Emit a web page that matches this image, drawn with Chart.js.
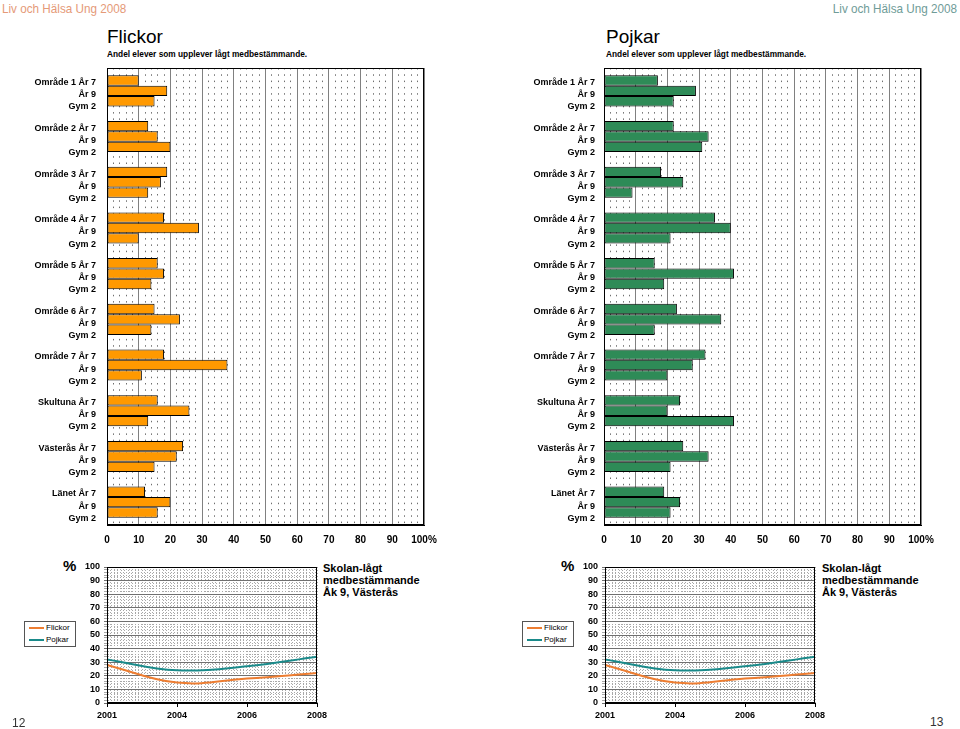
<!DOCTYPE html>
<html>
<head>
<meta charset="utf-8">
<script src="https://cdn.jsdelivr.net/npm/chart.js@4.4.1/dist/chart.umd.min.js"></script>
<style>
  body { margin: 0; width: 960px; height: 729px; background: #fff; position: relative; overflow: hidden;
         font-family: Arial, "Liberation Sans", sans-serif; color: #000; }
  .abs { position: absolute; white-space: nowrap; line-height: 1; }
  canvas { position: absolute; }
  .head { font-size: 13px; top: 2px; transform: scaleX(0.9); }
  .title { font-size: 19px; top: 27px; }
  .sub { font-size: 8.3px; font-weight: bold; top: 50px; }
  .pct { font-size: 15px; font-weight: bold; top: 558px; }
  .ttl { font-size: 11px; font-weight: bold; line-height: 12px; top: 562px; }
  .legend { position: absolute; top: 621px; width: 50px; height: 24px; border: 1px solid #555;
            font-size: 8px; line-height: 12px; }
  .legend div { display: flex; align-items: center; }
  .legend span { display: inline-block; width: 15px; height: 2px; margin: 0 2px 0 4px; }
  .page { font-size: 12px; color: #333; }
</style>
</head>
<body>
<div class="abs head" style="left:2px;color:#E59A78;transform-origin:left top;">Liv och Hälsa Ung 2008</div>
<div class="abs head" style="right:3px;color:#6F9C98;transform-origin:right top;">Liv och Hälsa Ung 2008</div>

<div class="abs title" style="left:107px;">Flickor</div>
<div class="abs sub" style="left:107px;">Andel elever som upplever lågt medbestämmande.</div>
<div class="abs title" style="left:606px;">Pojkar</div>
<div class="abs sub" style="left:606px;">Andel elever som upplever lågt medbestämmande.</div>

<canvas id="girlsBars" width="440" height="495" style="left:0;top:60px;"></canvas>
<canvas id="boysBars" width="460" height="495" style="left:480px;top:60px;"></canvas>

<div class="abs pct" style="left:63px;">%</div>
<div class="abs ttl" style="left:323px;">Skolan-lågt<br>medbestämmande<br>Åk 9, Västerås</div>
<div class="legend" style="left:24px;">
  <div><span style="background:#ED7D31"></span>Flickor</div>
  <div><span style="background:#1A8A8A"></span>Pojkar</div>
</div>
<canvas id="trendLeft" width="340" height="174" style="left:0;top:555px;"></canvas>

<div class="abs pct" style="left:561px;">%</div>
<div class="abs ttl" style="left:822px;">Skolan-lågt<br>medbestämmande<br>Åk 9, Västerås</div>
<div class="legend" style="left:522px;">
  <div><span style="background:#ED7D31"></span>Flickor</div>
  <div><span style="background:#1A8A8A"></span>Pojkar</div>
</div>
<canvas id="trendRight" width="340" height="174" style="left:498px;top:555px;"></canvas>

<div class="abs page" style="left:12px;top:717px;">12</div>
<div class="abs page" style="left:930px;top:716px;">13</div>

<script>
// ── Data ─────────────────────────────────────────────────────────────────
const GROUPS = ["Område 1", "Område 2", "Område 3", "Område 4", "Område 5",
                "Område 6", "Område 7", "Skultuna", "Västerås", "Länet"];
const GRADES = ["År 7", "År 9", "Gym 2"];

const GIRLS_AR7  = [10, 13, 19, 18, 16, 15, 18, 16, 24, 12];
const GIRLS_AR9  = [19, 16, 17, 29, 18, 23, 38, 26, 22, 20];
const GIRLS_GYM2 = [15, 20, 13, 10, 14, 14, 11, 13, 15, 16];

const BOYS_AR7  = [17, 22, 18, 35, 16, 23, 32, 24, 25, 19];
const BOYS_AR9  = [29, 33, 25, 40, 41, 37, 28, 20, 33, 24];
const BOYS_GYM2 = [22, 31, 9, 21, 19, 16, 20, 41, 21, 21];

const PCT_TICKS = ["0", "10", "20", "30", "40", "50", "60", "70", "80", "90", "100%"];

const YEARS = ["2001", "2004", "2006", "2008"];
const TREND_GIRLS = [28, 15, 18, 22];
const TREND_BOYS  = [32, 24, 27, 34];
const TREND_TICKS = ["0", "10", "20", "30", "40", "50", "60", "70", "80", "90", "100"];

Chart.defaults.font.family = 'Arial, "Liberation Sans", sans-serif';
Chart.defaults.color = "#000";

// black box round the plot area, like the Excel originals
const frame = {
  id: "frame",
  afterDraw(chart) {
    const { ctx, chartArea: a } = chart;
    ctx.save();
    ctx.strokeStyle = "#000";
    ctx.lineWidth = 1;
    ctx.strokeRect(Math.round(a.left) + 0.5, Math.round(a.top) + 0.5,
                   Math.round(a.right - a.left) - 1, Math.round(a.bottom - a.top) - 1);
    ctx.restore();
  }
};

// fixed axis sizes, and no extra room for overhanging labels
const fixSize = (w, h) => s => {
  if (w != null) s.width = w;
  if (h != null) s.height = h;
  s.paddingTop = 0; s.paddingBottom = 0; s.paddingLeft = 0; s.paddingRight = 0;
};

// ── Horizontal bar charts ────────────────────────────────────────────────
function barChart(id, series, color, axisW, padRight, labelPad) {
  return new Chart(document.getElementById(id), {
    type: "bar",
    data: {
      labels: GROUPS.map(g => [g + " " + GRADES[0], GRADES[1], GRADES[2]]),
      datasets: series.map((d, i) => ({
        label: GRADES[i],
        data: d,
        backgroundColor: color,
        borderColor: "#000",
        borderWidth: 1,
        borderSkipped: false,
        categoryPercentage: 0.68,
        barPercentage: 1,
      }))
    },
    options: {
      indexAxis: "y",
      animation: false,
      responsive: false,
      layout: { padding: { top: 8, right: padRight, left: 0, bottom: 0 } },
      plugins: { legend: { display: false }, tooltip: { enabled: false } },
      scales: {
        x: {
          min: 0, max: 100,
          ticks: {
            stepSize: 2, autoSkip: false, maxRotation: 0, padding: 9,
            font: { size: 10, weight: "bold" },
            callback: v => (v % 10 === 0 ? PCT_TICKS[v / 10] : "")
          },
          grid: {
            drawTicks: false, lineWidth: 1,
            color: c => (c.tick && c.tick.value % 10 === 0 ? "#808080" : "#6f6f6f")
          },
          border: {
            color: "#000",
            dash: c => (c.tick && c.tick.value % 10 !== 0 ? [1.5, 4.8] : [])
          },
          afterFit: fixSize(null, 30)
        },
        y: {
          grid: { display: false, drawTicks: false },
          border: { color: "#000" },
          ticks: {
            autoSkip: false, padding: labelPad, labelOffset: 4,
            font: { size: 9, weight: "bold", lineHeight: 1.35 }
          },
          afterFit: fixSize(axisW, null)
        }
      }
    },
    plugins: [frame]
  });
}

barChart("girlsBars", [GIRLS_AR7, GIRLS_AR9, GIRLS_GYM2], "#FF9900", 107, 16, 11);
barChart("boysBars", [BOYS_AR7, BOYS_AR9, BOYS_GYM2], "#2E8B57", 124, 19, 9);

// ── Trend line charts ────────────────────────────────────────────────────
function trendChart(id) {
  return new Chart(document.getElementById(id), {
    type: "line",
    data: {
      labels: YEARS,
      datasets: [
        { label: "Flickor", data: TREND_GIRLS, borderColor: "#ED7D31", borderWidth: 2,
          pointRadius: 0, tension: 0.4, fill: false },
        { label: "Pojkar", data: TREND_BOYS, borderColor: "#1A8A8A", borderWidth: 2,
          pointRadius: 0, tension: 0.4, fill: false }
      ]
    },
    options: {
      animation: false,
      responsive: false,
      layout: { padding: { top: 12, right: 23, left: 0, bottom: 0 } },
      plugins: { legend: { display: false }, tooltip: { enabled: false } },
      scales: {
        x: {
          offset: false,
          grid: { drawOnChartArea: false, drawTicks: true, tickLength: 4, color: "#000" },
          border: { color: "#000" },
          ticks: { padding: 3, maxRotation: 0, autoSkip: false, font: { size: 9, weight: "bold" } },
          afterFit: fixSize(null, 26)
        },
        xg: {
          type: "linear", position: "top", min: 0, max: 60,
          ticks: { display: false, stepSize: 1 },
          grid: { drawTicks: false, color: "#a8a8a8", lineWidth: 1 },
          border: { display: false, dash: [1, 2] },
          afterFit: fixSize(null, 0)
        },
        y: {
          min: 0, max: 100,
          ticks: {
            stepSize: 2, autoSkip: false, padding: 4,
            font: { size: 9, weight: "bold" },
            callback: v => (v % 10 === 0 ? TREND_TICKS[v / 10] : "")
          },
          grid: {
            tickLength: 3, lineWidth: 1,
            color: c => (c.tick && c.tick.value % 10 === 0 ? "#707070" : "#a8a8a8")
          },
          border: {
            color: "#000",
            dash: c => (c.tick && c.tick.value % 10 !== 0 ? [1, 2] : [])
          },
          afterFit: fixSize(107, null)
        }
      }
    },
    plugins: [frame]
  });
}

trendChart("trendLeft");
trendChart("trendRight");
</script>
</body>
</html>
